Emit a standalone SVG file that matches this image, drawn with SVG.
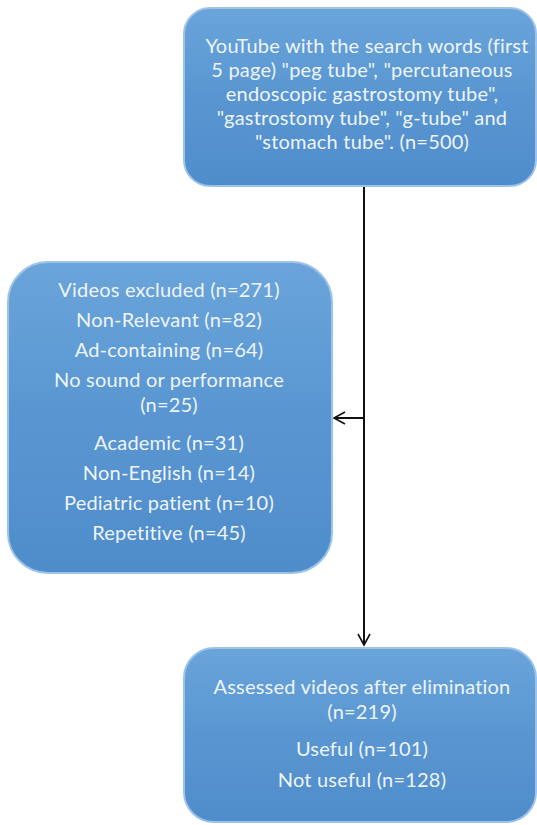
<svg xmlns="http://www.w3.org/2000/svg" width="537" height="825" viewBox="0 0 537 825">
<defs>
<linearGradient id="g" x1="0" y1="0" x2="0" y2="1">
<stop offset="0" stop-color="#6aa4da"/>
<stop offset="0.5" stop-color="#5996d1"/>
<stop offset="1" stop-color="#4f8ccb"/>
</linearGradient>
<marker id="arr" markerWidth="14" markerHeight="14" refX="12" refY="7" orient="auto" markerUnits="userSpaceOnUse">
<path d="M1,1 L12,7 L1,13" fill="none" stroke="#111" stroke-width="1.6"/>
</marker>
<style>
.box{fill:url(#g);stroke:#9cc3e8;stroke-width:2}
.t{font-family:Lato,"Open Sans",sans-serif;font-size:20px;fill:#eef4fb;text-anchor:middle;letter-spacing:0.2px}
.c{stroke:#111;stroke-width:2;fill:none}
</style>
</defs>
<g id="connectors">
<line class="c" x1="364" y1="186" x2="364" y2="645" marker-end="url(#arr)"/>
<line class="c" x1="364" y1="418" x2="334" y2="418" marker-end="url(#arr)"/>
</g>
<g id="search">
<rect class="box" x="184" y="8" width="352" height="178" rx="26"/>
<text class="t" x="367" y="53">YouTube with the search words (first</text>
<text class="t" x="362" y="77">5 page) "peg tube", "percutaneous</text>
<text class="t" x="362" y="101">endoscopic gastrostomy tube",</text>
<text class="t" x="362" y="125">"gastrostomy tube", "g-tube" and</text>
<text class="t" x="362" y="149">"stomach tube". (n=500)</text>
</g>
<g id="excluded">
<rect class="box" x="8" y="262" width="324" height="311" rx="40"/>
<text class="t" x="169" y="297">Videos excluded (n=271)</text>
<text class="t" x="169" y="327">Non-Relevant (n=82)</text>
<text class="t" x="169" y="357">Ad-containing (n=64)</text>
<text class="t" x="169" y="387">No sound or performance</text>
<text class="t" x="169" y="412">(n=25)</text>
<text class="t" x="169" y="450">Academic (n=31)</text>
<text class="t" x="169" y="480">Non-English (n=14)</text>
<text class="t" x="169" y="510">Pediatric patient (n=10)</text>
<text class="t" x="169" y="540">Repetitive (n=45)</text>
</g>
<g id="assessed">
<rect class="box" x="184" y="648" width="352" height="174" rx="30"/>
<text class="t" x="362" y="694">Assessed videos after elimination</text>
<text class="t" x="362" y="719">(n=219)</text>
<text class="t" x="362" y="756">Useful (n=101)</text>
<text class="t" x="362" y="787">Not useful (n=128)</text>
</g>
</svg>
